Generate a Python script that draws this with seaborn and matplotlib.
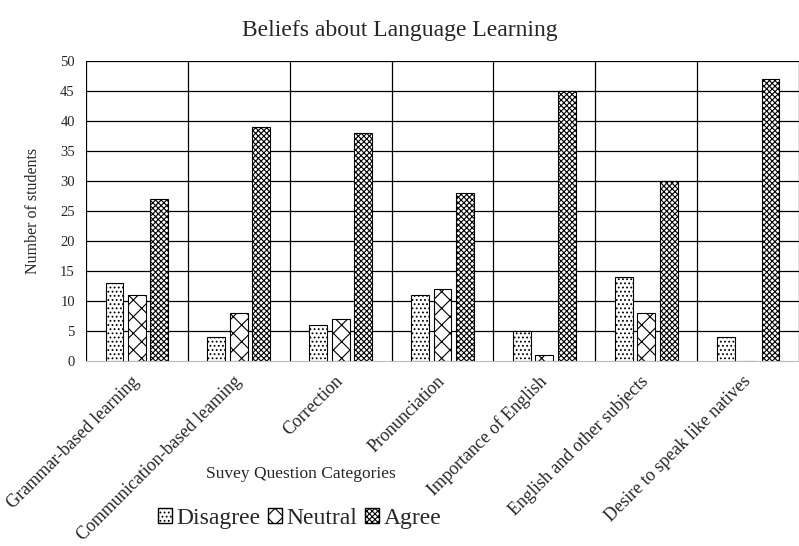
import numpy as np
import pandas as pd
import matplotlib
matplotlib.use("Agg")
import matplotlib.pyplot as plt
import seaborn as sns
from matplotlib.patches import Patch

# Данные
categories = ["Grammar-based learning", "Communication-based leaming", "Correction",
              "Pronunciation", "Importance of English", "English and other subjects",
              "Desire to speak like natives"]
disagree = [13, 4, 6, 11, 5, 14, 4]
neutral = [11, 8, 7, 12, 1, 8, 0]
agree = [27, 39, 38, 28, 45, 30, 47]
responses = ["Disagree", "Neutral", "Agree"]

df = pd.DataFrame({"category": categories, "Disagree": disagree,
                   "Neutral": neutral, "Agree": agree})
df = df.melt(id_vars="category", var_name="response", value_name="count")

sns.set_style("white")
plt.rcParams["font.family"] = ["Liberation Serif", "DejaVu Serif"]
plt.rcParams["hatch.linewidth"] = 0.8

fig = plt.figure(figsize=(7.99, 5.46), dpi=100)
ax = fig.add_axes([0.1076, 0.339, 0.8924, 0.549])

sns.barplot(data=df, x="category", y="count", hue="response", hue_order=responses,
            palette=["white"] * 3, edgecolor="black", linewidth=0.8,
            width=0.66, gap=0.2, ax=ax, legend=False)

hatches = {"Disagree": "....", "Neutral": "xx", "Agree": "xxxxxx"}
for container, resp in zip(ax.containers, responses):
    for bar in container:
        bar.set_hatch(hatches[resp])

ax.set_ylim(0, 50)
ax.set_xlim(-0.5, 6.5)
ax.set_yticks(range(0, 51, 5))
ax.tick_params(axis="y", labelsize=10.5, length=0, pad=8)
ax.tick_params(axis="x", length=0, pad=13)
ax.set_xticks(range(len(categories)))
ax.set_xticklabels(categories, rotation=45, ha="right", va="center",
                   rotation_mode="anchor", fontsize=13)
for y in range(5, 51, 5):
    ax.axhline(y, color="black", lw=0.9, zorder=0)
for x in np.arange(-0.5, 7, 1):
    ax.axvline(x, color="black", lw=0.9, zorder=0)
for s in ["top", "right", "left"]:
    ax.spines[s].set_visible(False)
ax.spines["bottom"].set_color("#bbbbbb")
ax.set_xlabel("")
ax.set_ylabel("Number of students", fontsize=11.5, labelpad=14)

fig.text(0.5, 0.945, "Beliefs about Language Learning", ha="center", va="center",
         fontsize=17)
fig.text(0.376, 0.132, "Suvey Question Categories", ha="center", va="center",
         fontsize=12.5)

handles = [Patch(facecolor="white", edgecolor="black", hatch=hatches[r], label=r)
           for r in responses]
fig.legend(handles=handles, loc="center", bbox_to_anchor=(0.375, 0.051), ncol=3,
           frameon=False, fontsize=17, handlelength=0.6, handleheight=0.6,
           handletextpad=0.2, columnspacing=0.3)

fig.savefig("out.png", dpi=100)
